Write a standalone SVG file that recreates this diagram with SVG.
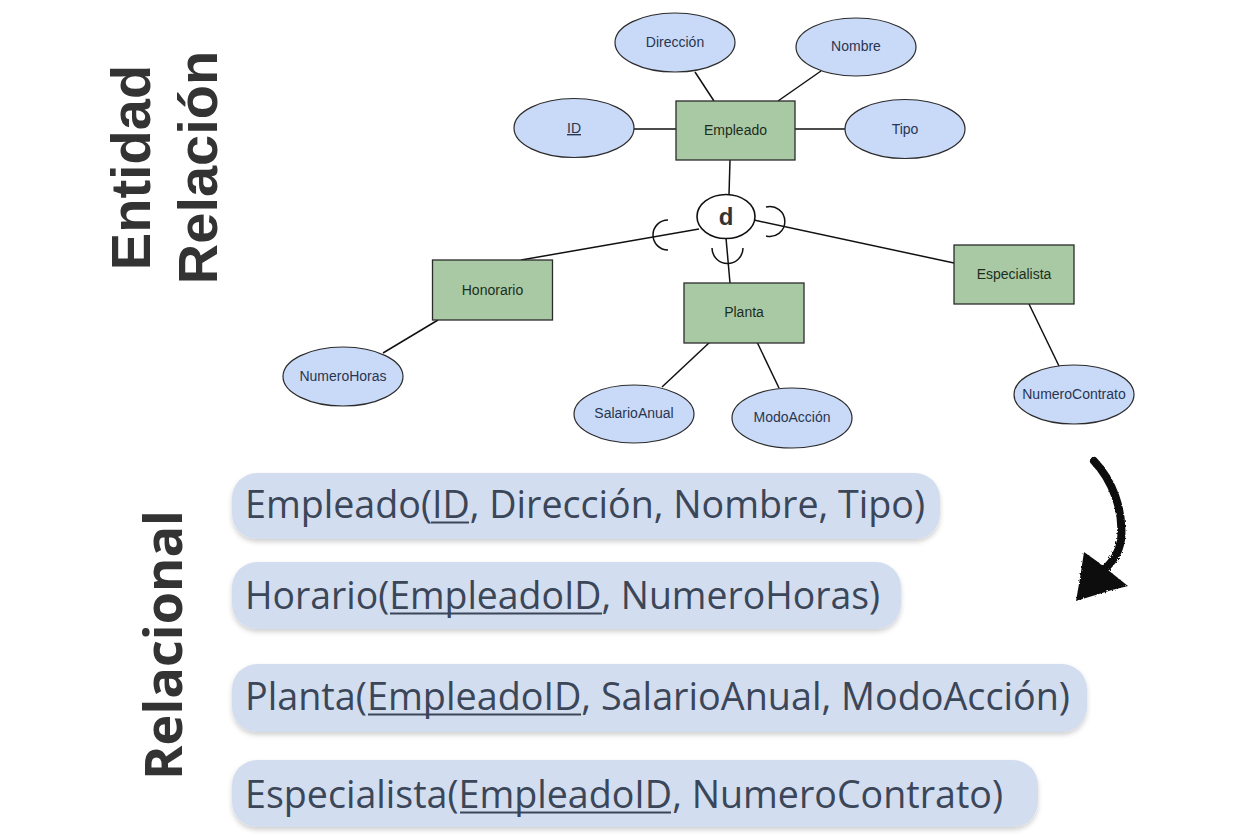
<svg xmlns="http://www.w3.org/2000/svg" width="1248" height="837" viewBox="0 0 1248 837">
<style>
.ent{fill:#a9c9a5;stroke:#2b2b2b;stroke-width:1.3}
.att{fill:#c9daf8;stroke:#2b2b2b;stroke-width:1.2}
.et{font-family:"Liberation Sans",Arial,sans-serif;font-size:14px;fill:#1d2d1d;text-anchor:middle}
.at{font-family:"Liberation Sans",Arial,sans-serif;font-size:14px;fill:#2a3550;text-anchor:middle}
.ln{stroke:#111;stroke-width:1.5;fill:none}
.title{font-family:"Liberation Sans",Arial,sans-serif;font-weight:bold;font-size:56px;fill:#333;text-anchor:middle}
.box{fill:#d2ddef}
.rt{font-family:"Open Sans","Noto Sans",sans-serif;font-size:39px;fill:#3b4658}
.ul{stroke:#3b4658;stroke-width:2.2}
</style>
<defs>
<filter id="sh" x="-5%" y="-20%" width="110%" height="150%">
<feDropShadow dx="0" dy="3" stdDeviation="2.5" flood-color="#000" flood-opacity="0.18"/>
</filter>
<filter id="rough" x="-20%" y="-20%" width="140%" height="140%">
<feTurbulence type="fractalNoise" baseFrequency="0.6" numOctaves="2" seed="3"/>
<feDisplacementMap in="SourceGraphic" scale="3"/>
</filter>
</defs>
<rect width="1248" height="837" fill="#fff"/>

<g id="titles">
<text class="title" transform="translate(150,167.5) rotate(-90)">Entidad</text>
<text class="title" transform="translate(217,167.5) rotate(-90)">Relación</text>
<text transform="translate(182,645) rotate(-90)" text-anchor="middle" font-family="Open Sans, Noto Sans, sans-serif" font-weight="bold" font-size="52" fill="#333" textLength="270" lengthAdjust="spacingAndGlyphs">Relacional</text>
</g>

<g id="connectors">
<line class="ln" x1="634" y1="129" x2="676" y2="129"/>
<line class="ln" x1="795" y1="129" x2="845" y2="129"/>
<line class="ln" x1="695" y1="72" x2="714" y2="101"/>
<line class="ln" x1="821" y1="71" x2="778" y2="101"/>
<line class="ln" x1="730" y1="160" x2="729" y2="195"/>
<line class="ln" x1="699" y1="229" x2="521" y2="260"/>
<line class="ln" x1="754" y1="220" x2="954" y2="263"/>
<line class="ln" x1="726" y1="238" x2="730" y2="283"/>
<line class="ln" x1="438" y1="320" x2="383" y2="353"/>
<line class="ln" x1="710" y1="342" x2="662" y2="387"/>
<line class="ln" x1="757" y1="342" x2="779" y2="388"/>
<line class="ln" x1="1029" y1="304" x2="1059" y2="366"/>
<path class="ln" d="M 668 220 A 15 15 0 1 0 668 250"/>
<path class="ln" d="M 766 207 A 15 15 0 1 1 766 236"/>
<path class="ln" d="M 712 248 A 15.5 15.5 0 0 0 743 248"/>
</g>

<g id="d-node">
<ellipse cx="726" cy="216.5" rx="29" ry="22" fill="#fff" stroke="#111" stroke-width="1.6"/>
<text x="726" y="225" text-anchor="middle" font-family="Liberation Sans, Arial, sans-serif" font-weight="bold" font-size="24" fill="#333">d</text>
</g>

<g id="empleado"><rect class="ent" x="676" y="101" width="119" height="59"/><text class="et" x="735.5" y="135">Empleado</text></g>
<g id="honorario"><rect class="ent" x="432.5" y="260" width="120" height="60"/><text class="et" x="492.5" y="295">Honorario</text></g>
<g id="planta"><rect class="ent" x="684" y="283" width="120" height="60"/><text class="et" x="744" y="317">Planta</text></g>
<g id="especialista"><rect class="ent" x="954" y="245" width="120" height="59"/><text class="et" x="1014" y="279">Especialista</text></g>

<g id="att-direccion"><ellipse class="att" cx="675" cy="42.5" rx="60" ry="29.5"/><text class="at" x="675" y="47">Dirección</text></g>
<g id="att-nombre"><ellipse class="att" cx="856" cy="47" rx="60" ry="29"/><text class="at" x="856" y="51">Nombre</text></g>
<g id="att-id"><ellipse class="att" cx="574" cy="128" rx="60" ry="29.5"/><text class="at" x="574" y="133" text-decoration="underline">ID</text></g>
<g id="att-tipo"><ellipse class="att" cx="905" cy="129" rx="60" ry="29.5"/><text class="at" x="905" y="134">Tipo</text></g>
<g id="att-numerohoras"><ellipse class="att" cx="343" cy="376.5" rx="60" ry="29.5"/><text class="at" x="343" y="381">NumeroHoras</text></g>
<g id="att-salarioanual"><ellipse class="att" cx="634" cy="414" rx="60" ry="29"/><text class="at" x="634" y="418">SalarioAnual</text></g>
<g id="att-modoaccion"><ellipse class="att" cx="792" cy="418" rx="60" ry="30"/><text class="at" x="792" y="422">ModoAcción</text></g>
<g id="att-numerocontrato"><ellipse class="att" cx="1074" cy="394.5" rx="60" ry="29.5"/><text class="at" x="1074" y="399">NumeroContrato</text></g>

<g id="arrow" filter="url(#rough)">
<path d="M 1094 461 C 1112 480 1124 510 1121 540 C 1119 553 1113 561 1104 570" fill="none" stroke="#111" stroke-width="8" stroke-linecap="round"/>
<polygon points="1084,552 1098,562 1128,586 1112,590 1076,601 1080,578" fill="#111"/>
</g>

<g id="rel-empleado">
<rect class="box" x="232" y="473" width="708" height="66" rx="25" filter="url(#sh)"/>
<text class="rt" x="245" y="518" textLength="680" lengthAdjust="spacingAndGlyphs">Empleado(ID, Dirección, Nombre, Tipo)</text>
<line class="ul" x1="431" y1="522.5" x2="469" y2="522.5"/>
</g>
<g id="rel-horario">
<rect class="box" x="232" y="562" width="669" height="67" rx="25" filter="url(#sh)"/>
<text class="rt" x="245" y="609" textLength="635" lengthAdjust="spacingAndGlyphs">Horario(EmpleadoID, NumeroHoras)</text>
<line class="ul" x1="390" y1="613.5" x2="602" y2="613.5"/>
</g>
<g id="rel-planta">
<rect class="box" x="232" y="664" width="855" height="68" rx="25" filter="url(#sh)"/>
<text class="rt" x="245" y="710" textLength="825" lengthAdjust="spacingAndGlyphs">Planta(EmpleadoID, SalarioAnual, ModoAcción)</text>
<line class="ul" x1="368" y1="714.5" x2="581" y2="714.5"/>
</g>
<g id="rel-especialista">
<rect class="box" x="232" y="760" width="806" height="67" rx="25" filter="url(#sh)"/>
<text class="rt" x="245" y="808" textLength="758" lengthAdjust="spacingAndGlyphs">Especialista(EmpleadoID, NumeroContrato)</text>
<line class="ul" x1="460" y1="812.5" x2="671" y2="812.5"/>
</g>
</svg>
